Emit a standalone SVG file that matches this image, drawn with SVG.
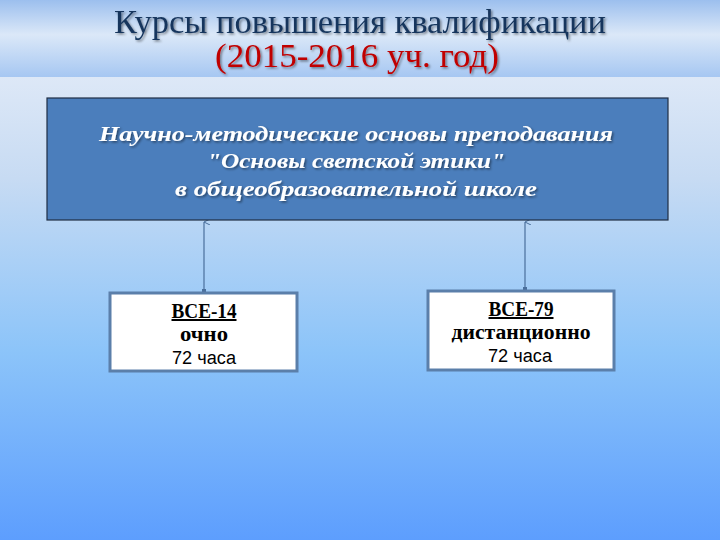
<svg xmlns="http://www.w3.org/2000/svg" width="720" height="540" viewBox="0 0 720 540">
<defs>
<linearGradient id="bg" x1="0" y1="0" x2="0" y2="1">
<stop offset="0" stop-color="#eef2fa"/>
<stop offset="0.33" stop-color="#c7dbf3"/>
<stop offset="0.65" stop-color="#8cc4f9"/>
<stop offset="1" stop-color="#5d9efe"/>
</linearGradient>
<linearGradient id="band" x1="0" y1="0" x2="0" y2="1">
<stop offset="0" stop-color="#9cbfee"/>
<stop offset="0.45" stop-color="#dbe8f8"/>
<stop offset="1" stop-color="#a6c7f2"/>
</linearGradient>
<filter id="sh" x="-5%" y="-20%" width="110%" height="140%">
<feDropShadow dx="1.5" dy="1.5" stdDeviation="1" flood-color="#000" flood-opacity="0.45"/>
</filter>
<marker id="up" viewBox="0 0 6 6" refX="3" refY="0" markerWidth="6" markerHeight="6" orient="auto-start-reverse" markerUnits="userSpaceOnUse">
<path d="M0,6 L3,0 L6,6" fill="none" stroke="#4a6f9c" stroke-width="1"/>
</marker>
<marker id="dot" viewBox="0 0 4 4" refX="2" refY="2" markerWidth="4" markerHeight="4" markerUnits="userSpaceOnUse">
<rect x="0" y="0" width="4" height="4" fill="#4a6f9c"/>
</marker>
</defs>
<style>
.title{font-family:"Liberation Serif","DejaVu Serif",serif;font-size:34px;text-anchor:middle;}
.main{font-family:"Liberation Serif","DejaVu Serif",serif;font-size:22px;font-style:italic;font-weight:bold;fill:#fff;text-anchor:middle;}
.b{font-family:"Liberation Serif","DejaVu Serif",serif;font-size:20px;font-weight:bold;fill:#000;text-anchor:middle;}
.n{font-family:"Liberation Sans","Noto Sans",sans-serif;font-size:18px;fill:#000;text-anchor:middle;}
.child{fill:#fff;stroke:#5b7faa;stroke-width:3;}
.conn{stroke:#4a6f9c;stroke-width:1.2;fill:none;}
</style>
<rect x="0" y="0" width="720" height="540" fill="url(#bg)"/>
<rect x="0" y="0" width="720" height="77" fill="url(#band)"/>
<g id="title" filter="url(#sh)">
<text class="title" x="360" y="33" fill="#17365d" textLength="492" lengthAdjust="spacingAndGlyphs">Курсы повышения квалификации</text>
<text class="title" x="357" y="67" fill="#c00000" textLength="284" lengthAdjust="spacingAndGlyphs">(2015-2016 уч. год)</text>
</g>
<g id="connectors">
<line class="conn" x1="204" y1="222" x2="204" y2="291" marker-start="url(#up)" marker-end="url(#dot)"/>
<line class="conn" x1="525" y1="222" x2="525" y2="289" marker-start="url(#up)" marker-end="url(#dot)"/>
</g>
<g id="main">
<rect x="47" y="98" width="621" height="122" fill="#4b7ebc" stroke="#1f2d44" stroke-width="1.2"/>
<g filter="url(#sh)">
<text class="main" x="356" y="141" textLength="514" lengthAdjust="spacingAndGlyphs">Научно-методические основы преподавания</text>
<text class="main" x="356" y="168" textLength="298" lengthAdjust="spacingAndGlyphs">"Основы светской этики"</text>
<text class="main" x="356" y="196" textLength="362" lengthAdjust="spacingAndGlyphs">в общеобразовательной школе</text>
</g>
</g>
<g id="node-bce14">
<rect class="child" x="110" y="293" width="187" height="78"/>
<text class="b" x="204" y="318" text-decoration="underline" textLength="65" lengthAdjust="spacingAndGlyphs">ВСЕ-14</text>
<text class="b" x="204" y="341" textLength="48" lengthAdjust="spacingAndGlyphs">очно</text>
<text class="n" x="204" y="364" textLength="64" lengthAdjust="spacingAndGlyphs">72 часа</text>
</g>
<g id="node-bce79">
<rect class="child" x="428" y="291" width="186" height="79"/>
<text class="b" x="521" y="316" text-decoration="underline" textLength="65" lengthAdjust="spacingAndGlyphs">ВСЕ-79</text>
<text class="b" x="521" y="339" textLength="139" lengthAdjust="spacingAndGlyphs">дистанционно</text>
<text class="n" x="520" y="362" textLength="64" lengthAdjust="spacingAndGlyphs">72 часа</text>
</g>
</svg>
